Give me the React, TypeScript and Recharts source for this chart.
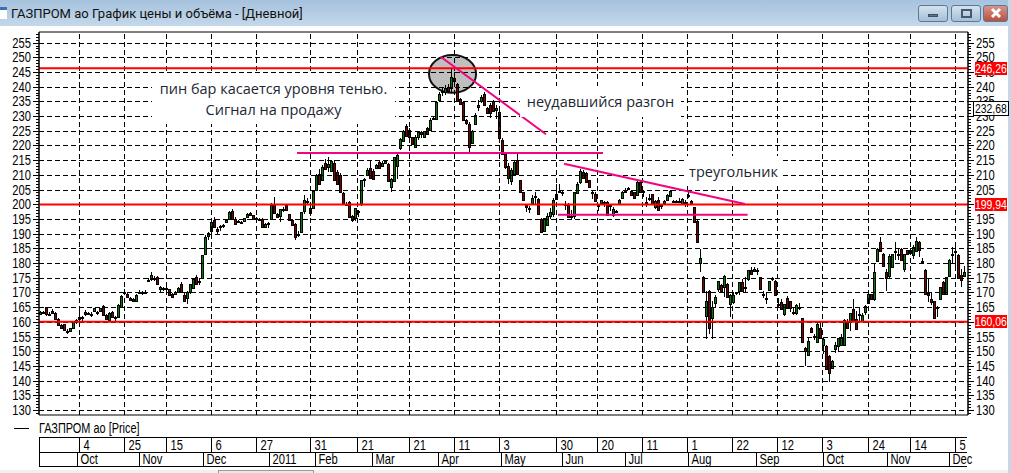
import { Bar, ComposedChart, ReferenceArea, ReferenceLine, XAxis, YAxis } from "recharts";

type Ohlc = [number, number, number, number];

// open, high, low, close per trading day
const sep10: Ohlc[] = [
  [162.6, 163.8, 162.2, 163.4], [163.2, 163.6, 163, 163.4], [164.9, 165, 162, 162.5], [162.5, 163.2, 162, 162.8],
  [163.6, 164.4, 162.5, 163], [163, 163.2, 160.8, 161], [161, 161.2, 158.8, 159], [159, 159.2, 157.6, 157.8],
  [159.2, 159.4, 157, 157.3], [157, 157.5, 156, 156.8], [157, 158, 156.9, 157.8], [158, 160, 157.8, 159.8],
  [160.6, 160.8, 159.4, 159.8],
];
const oct10: Ohlc[] = [
  [160.8, 163.6, 160, 161.5], [161.2, 162, 160.4, 161.8], [163.3, 164, 162, 162.6], [163, 163.4, 162.4, 162.8],
  [162.8, 163.2, 161.8, 162.2], [163.8, 164.8, 163.6, 164.6], [163, 163.6, 162.4, 163.2], [163.6, 164.8, 163.2, 164.6],
  [165.4, 165.6, 162, 162.2], [162.4, 162.6, 160.8, 161], [160.6, 163.2, 160, 163], [163.3, 163.6, 161.6, 161.8],
  [161.6, 162, 160.2, 161.6], [161.8, 166, 161.4, 165.8], [165, 169, 164.8, 168.8], [170, 171, 169.8, 170.2],
  [169.6, 170, 168, 168.6], [168.2, 168.6, 167, 167.4], [167.8, 168.2, 167, 167.2], [167, 169.4, 166.8, 169.2],
];
const nov10: Ohlc[] = [
  [170, 170.8, 169.8, 170], [170, 170.4, 169, 169.8], [170.2, 170.8, 170, 170.2], [174, 174.8, 173.8, 174.2],
  [174.4, 177, 174, 175.8], [174.8, 175.6, 174, 174.4], [175.4, 175.6, 172.6, 172.8], [171, 172.2, 170, 172],
  [171, 171.8, 170.6, 171.6], [171.4, 171.8, 171, 171.6], [171, 171.2, 169, 169.2], [169.4, 169.8, 168, 168.5],
  [169.6, 170.4, 169.4, 170.2], [170.2, 171.8, 170, 171.6], [172.8, 173.6, 170, 170.2], [169, 170, 167, 167.2],
  [168, 170.4, 166, 170.2], [170.2, 173, 169.6, 172.8], [171.6, 175, 171, 174.6], [175.2, 176, 172.4, 172.8],
  [173.6, 174.4, 172.6, 174], [174.8, 182.8, 174.6, 182.6],
];
const dec10: Ohlc[] = [
  [183, 189.4, 182.8, 189], [189.2, 190.6, 188, 190.2], [191, 194, 189, 193.8], [194.8, 195.8, 192, 192.3],
  [191.6, 192.2, 190, 191], [192.4, 193, 191, 192.6], [192.6, 193.4, 192, 193], [194, 195, 193.8, 194.8],
  [195, 197.8, 194.6, 197.4], [197.8, 198.4, 195, 195.1], [195, 195.6, 193, 193.2], [194.2, 194.8, 193.6, 194],
  [193.8, 194.4, 193.2, 193.6], [194.4, 195.2, 194.2, 195.2], [195.7, 197, 195.5, 196.8], [197, 197.4, 196, 196.4],
  [196.2, 196.4, 194.8, 195], [195.2, 195.6, 194.8, 195], [195, 195.4, 194.4, 194.8], [195, 195.2, 192.2, 192.4],
  [192.4, 193.6, 192, 193.4], [193.6, 194, 192, 193.6],
];
const jan11: Ohlc[] = [
  [195, 200.5, 194.6, 199.8], [199.8, 202.6, 196.8, 196.9], [196.8, 197, 195.2, 195.5], [195.9, 198.4, 194, 198.4],
  [198.4, 199, 197.2, 198.4], [199.6, 200, 197.9, 198], [196.6, 196.8, 194.4, 194.6], [194.8, 195, 192.8, 193],
  [193.4, 193.6, 188, 188.8], [190, 191, 189, 189.6], [190.6, 197.4, 190.4, 197.2], [197.6, 203, 196.6, 201.6],
  [201, 202, 200, 201.2], [198.6, 199, 196, 197], [198.6, 204.6, 198.4, 204.4],
];
const feb11: Ohlc[] = [
  [205, 210.2, 204.8, 210], [210.4, 212, 206.6, 207], [208.2, 213.4, 208, 212.8], [214, 215.4, 211.8, 212],
  [212.6, 216, 211, 213.8], [211.4, 215.2, 211, 214.6], [214, 215, 208, 208.4], [211, 211.8, 206.8, 207],
  [210, 210.6, 203.8, 204], [203.8, 204, 200, 200.2], [200, 200.6, 199.4, 199.8], [200.6, 201, 195.4, 195.6],
  [196, 196.2, 193.8, 194.6], [195.2, 198.6, 194.4, 198.6], [197.6, 198, 195.6, 197.8], [200, 208.4, 199.4, 208.2],
  [208.4, 209, 206, 208.6], [210, 212.4, 209.6, 211.8], [212.2, 215, 208.6, 208.8],
];
const mar11: Ohlc[] = [
  [211.2, 212, 208.4, 208.6], [212.2, 213.6, 212, 213.2], [214.4, 214.6, 212.2, 212.4], [213, 214.6, 212.8, 214],
  [214, 215, 214, 214.7], [213.8, 214, 207.8, 208], [205.8, 208.8, 204, 208.6], [208, 216, 207.8, 216],
  [213, 217.8, 208.5, 216.8], [219, 222.4, 218.6, 222.2], [221.6, 225.4, 221.4, 225], [226.6, 227.2, 223, 223.2],
  [225.4, 226, 222.6, 222.8], [222.8, 223, 220.2, 220.4], [219.6, 223.4, 219.2, 223], [223, 225, 222, 224.6],
  [224.6, 224.8, 222.4, 224], [223, 225, 222.4, 224.8], [226, 226.2, 223.4, 223.8], [225.4, 229.2, 225, 228.8],
  [229, 230, 228.6, 229.4], [229.1, 235.2, 229, 234.8],
];
const apr11: Ohlc[] = [
  [235.6, 238.2, 234.8, 237.6], [238.2, 239.4, 236.8, 238.4], [238.2, 240.4, 237, 239.6], [240, 241, 238, 238.4],
  [239.6, 246.4, 238, 243.2], [243, 245, 240.5, 241.8], [241, 241.2, 234.8, 235], [235.8, 236, 234, 234.2],
  [234.8, 235, 228.4, 228.6], [228.6, 229, 227, 227.6], [227.4, 228, 217.8, 219.4], [221, 225.4, 220.8, 225],
  [227.4, 231, 227.2, 230.2], [233, 235.4, 231.6, 233.6], [235, 237, 234.6, 236.6], [237.6, 238.2, 233.6, 233.7],
  [232.6, 233, 230.8, 231], [233.6, 234.4, 229.4, 231], [235, 235.4, 231.4, 231.6], [232, 233.6, 229, 232.8],
  [231.4, 232, 222.2, 222.4],
];
const may11: Ohlc[] = [
  [222, 222.4, 216.6, 217], [217.2, 217.4, 212, 212.6], [213, 214, 206.8, 209], [208, 212.4, 206.6, 211.6],
  [210.4, 214.8, 210, 214.4], [215, 217, 210, 210.3], [208.2, 208.4, 203.8, 204], [204, 204.2, 201.2, 201.5],
  [199.6, 199.8, 197.4, 199], [198.8, 199.4, 197, 198.8], [200.4, 203, 199.6, 202.2], [202.4, 204, 200, 202.8],
  [201.8, 202, 196.4, 196.6], [195, 195.2, 190.4, 190.6], [191, 195.4, 190.8, 195.2], [193, 197, 192.6, 196],
  [196, 198.6, 195, 197.4], [196.8, 202, 195.8, 201.4], [201.8, 206.8, 201.6, 203.6], [204.6, 207, 203.8, 204.4],
];
const jun11: Ohlc[] = [
  [204, 205, 202.8, 203.8], [200, 201, 198, 200], [200, 200.4, 195.4, 195.6], [195.8, 198, 195, 196],
  [196, 204.2, 195, 204], [203.8, 207.4, 203.6, 207], [207.5, 212, 207, 211.3], [211, 211.8, 208.8, 208.9],
  [210.6, 211, 207.4, 207.5], [208.2, 208.4, 205.8, 206], [203.8, 205, 201.8, 204], [203.6, 204, 200.6, 201],
  [199.6, 200, 197.6, 199.6], [200.4, 201.6, 199.6, 201.4], [200.4, 201, 199, 200.6], [200.6, 201, 196.4, 196.5],
  [199.8, 200, 197.6, 199.4], [196.5, 199, 195.6, 198.4], [197.4, 198, 197, 197.6], [200, 201.8, 199.8, 201.6],
  [202, 204.6, 202, 204.2],
];
const jul11: Ohlc[] = [
  [204.4, 205.6, 204, 204.6], [205.4, 206, 204.8, 205.6], [204.4, 204.6, 203, 203.2], [204, 204.2, 201.8, 202],
  [203.2, 208, 203, 207.6], [207.4, 208, 204, 204.2], [204.4, 205, 202.6, 204.6], [200.6, 202.6, 199.2, 200.6],
  [202, 203.4, 201, 202.2], [203.4, 203.6, 200, 200.2], [199, 201.4, 198.4, 201.2], [201.4, 202.6, 198, 198],
  [199.6, 200, 198.4, 199.6], [200.4, 201.6, 199.6, 201.2], [201.4, 203.4, 201.2, 203.2], [202.8, 205, 202.6, 204.6],
  [201, 201.4, 200.8, 201], [201.2, 201.6, 200.4, 201.2], [201, 202, 200.4, 201.2], [200.2, 202, 199.6, 201.8],
  [200.6, 201.4, 199, 200.8],
];
const aug11: Ohlc[] = [
  [203, 204.2, 202.2, 203.2], [201.2, 201.4, 199.6, 200], [199, 199.2, 194, 194], [194.4, 194.6, 187.2, 187.2],
  [180, 184.8, 176.8, 181.8], [175.4, 175.6, 170, 170], [162.1, 170.4, 154.2, 167.2], [170.6, 170.8, 156, 158],
  [161.3, 167, 154, 165], [166.3, 169, 165, 168.4], [171.2, 174, 170, 174], [172.4, 173, 170, 170.6],
  [171.8, 175.8, 168.4, 175.6], [173, 173.2, 168.4, 168.6], [166, 169.6, 161.5, 169], [166.6, 170, 166, 169],
  [170, 170.2, 169, 170], [170.4, 173.6, 169, 173.4], [173.4, 174.4, 170.4, 170.6], [171.8, 175.4, 169.8, 171.8],
  [174.6, 177.8, 174, 177.6], [177.8, 178.6, 176.2, 176.4], [178, 178.8, 177, 177.2],
];
const sep11: Ohlc[] = [
  [177.6, 178.2, 176, 177.4], [175.2, 175.4, 171, 171.2], [169.6, 170.4, 168, 169.4], [168.2, 170, 166, 168],
  [170.8, 174, 170.6, 173.8], [174.4, 175.4, 174, 174.8], [174, 174.2, 169, 169], [166, 168, 164.8, 165.8],
  [166.8, 167.6, 164, 164.2], [162.8, 166.2, 162, 166], [168, 168.8, 164.6, 164.6], [167, 167, 163.4, 164.6],
  [163.2, 165, 162.4, 163.2], [163, 166, 162.4, 165.8], [165, 166.4, 164, 165], [161.2, 161.4, 153.2, 153.2],
  [151, 151.4, 145, 150], [148.6, 155, 148.4, 153.6], [158, 158.4, 156.6, 156.6], [155, 156, 153.8, 155.2],
  [153.2, 160.2, 153, 159.2], [157.8, 160, 154.6, 154.6],
];
const oct11: Ohlc[] = [
  [152, 155, 149, 154], [151.8, 152, 144, 144], [148.4, 148.6, 139.6, 142.6], [144.4, 147, 144.2, 146.8],
  [150.6, 153, 149.4, 152.2], [151.8, 154.4, 149.8, 154.4], [152.1, 156, 152, 154.6], [152, 161, 152, 160.6],
  [160.4, 161, 157.4, 157.8], [159.8, 163, 157, 163], [164.4, 167.6, 160, 160.2], [161, 163.6, 157.6, 157.6],
  [162.6, 165, 160, 162.6], [160.4, 163, 160, 162.4], [163.2, 165.8, 162.4, 165.4], [166.4, 169.8, 166.2, 169.6],
  [169.4, 169.6, 167.6, 167.8], [167.6, 179.6, 167, 176.8], [180.6, 185, 180.4, 184.8], [187, 189, 184, 184.2],
  [183.2, 183.4, 179, 179], [176.8, 178, 170.4, 175],
];
const nov11: Ohlc[] = [
  [175.6, 183, 175, 182.4], [178.8, 183.2, 178.6, 183], [184, 187, 181, 183.8], [183, 185, 181, 183],
  [184.8, 185, 180.8, 181], [178, 183, 177, 183], [184.4, 184.6, 182.8, 183], [184.6, 185, 183, 183.4],
  [182.8, 186, 181.4, 185.6], [184.2, 188.8, 184, 187.6], [187.2, 187.4, 182, 184.4], [180.6, 181.6, 180.2, 180.4],
  [177.8, 178, 169.4, 169.6], [169.8, 175, 166.6, 169], [167.8, 170, 165.6, 166.8], [167, 167.2, 161.4, 161.4],
  [165, 165.4, 161.6, 165.2], [167.6, 172, 167.6, 172], [173.4, 174, 169.6, 169.6], [169.6, 175.4, 169.6, 175.2],
];
const dec11: Ohlc[] = [
  [175.6, 181.4, 175.4, 181.2], [182.8, 185.6, 179.6, 183], [184, 186, 178, 184.2], [182.8, 183, 174.8, 175],
  [176, 178, 172, 174.2], [175.6, 179, 175.4, 177],
];

const dayTicks = [13, 28, 42, 57, 72, 90, 105.5, 123, 138, 153, 172, 185.5, 200.5, 215.5, 230.5, 245.5, 260.5, 276, 290, 305];
const dayLabels = ["4", "25", "15", "6", "27", "31", "21", "21", "11", "3", "30", "20", "11", "1", "22", "12", "3", "24", "14", "5"];
const monthTicks = [12.2, 32.8, 54.2, 76.2, 91.5, 110.4, 132.4, 153.4, 173.7, 194.7, 215.7, 238.5, 260.8, 282.2, 302.8];
const monthLabels = ["Oct", "Nov", "Dec", "2011", "Feb", "Mar", "Apr", "May", "Jun", "Jul", "Aug", "Sep", "Oct", "Nov", "Dec"];

const minorTicks = Array.from({ length: 130 }, (_, i) => 129 + i);
const gridPrices = [130, 135, 140, 145, 150, 155, 160, 165, 170, 175, 180, 185, 190, 195, 200, 205, 210, 215, 220, 225, 230, 235, 240, 245, 250, 255];
const levels = [
  { price: 246.26, text: "246,26" },
  { price: 199.94, text: "199,94" },
  { price: 160.06, text: "160,06" },
];
const lastPrice = { price: 232.68, text: "232,68" };
// these right axis labels are fully under a price tag
const coveredRightLabels = [200, 160];
const pinkSegments = [
  { from: [85.5, 217.4], to: [187.5, 217.4] },
  { from: [133.4, 250.2], to: [168.5, 223.8] },
  { from: [174.5, 213.8], to: [234.8, 200.1] },
  { from: [172.5, 196.4], to: [235.7, 196.4] },
];

const candles = [sep10, oct10, nov10, dec10, jan11, feb11, mar11, apr11, may11, jun11, jul11, aug11, sep11, oct11, nov11, dec11]
  .flat()
  .map(([open, high, low, close], index) => ({ index, open, high, low, close, range: [low, high] }));

const AXIS_FONT = "'Liberation Sans', sans-serif";
const NOTE_FONT = "'Open Sans', sans-serif";
const X_DOMAIN: [number, number] = [-0.5, 309.17];
const Y_DOMAIN: [number, number] = [128.3, 258.6];
const PLOT_TOP = 32;
const PLOT_HEIGHT = 383;
const NARROW = 0.8;

// the price tags sit on top of the right axis labels, so they live outside the svg
const tagTop = (price: number) => PLOT_TOP + ((Y_DOMAIN[1] - price) / (Y_DOMAIN[1] - Y_DOMAIN[0])) * PLOT_HEIGHT;

// the original axis font is a narrow bitmap one, so squeeze the text horizontally
function AxisText({ x, y, anchor = "start", children }: { x: number; y: number; anchor?: string; children: any }) {
  return (
    <text transform={`translate(${x} ${y}) scale(${NARROW} 1)`} textAnchor={anchor} fontSize={14} fontFamily={AXIS_FONT} fill="#000">
      {children}
    </text>
  );
}

// dashed grid rule snapped to the pixel grid
function GridRule(props: any) {
  const { x1, y1, x2, y2 } = props;
  const snap = (v: number) => Math.round(v) + 0.5;
  const vertical = x1 === x2;
  return (
    <line
      x1={vertical ? snap(x1) : x1}
      x2={vertical ? snap(x2) : x2}
      y1={vertical ? y1 : snap(y1)}
      y2={vertical ? y2 : snap(y2)}
      stroke="#000"
      strokeWidth={1}
      strokeDasharray="5 3"
    />
  );
}

function Candle(props: any) {
  const { x, y, width, height, payload } = props;
  const top = Math.min(y, y + height);
  const span = Math.abs(height);
  const perUnit = span / (payload.high - payload.low || 1);
  const cx = Math.floor(x + width / 2) + 0.5;
  const y1 = Math.round(top + (payload.high - Math.max(payload.open, payload.close)) * perUnit) + 0.5;
  const y2 = Math.round(top + (payload.high - Math.min(payload.open, payload.close)) * perUnit) + 0.5;
  const up = payload.close >= payload.open;
  return (
    <g shapeRendering="crispEdges">
      <line x1={cx} x2={cx} y1={top} y2={top + span} stroke="#000" />
      <rect x={cx - 1} y={y1} width={2} height={Math.max(y2 - y1, 1)} fill={up ? "#008000" : "#800000"} stroke="#000" />
    </g>
  );
}

function PriceTick(props: any) {
  const { x, y, payload, side } = props;
  const major = payload.value % 5 === 0;
  const dir = side === "left" ? -1 : 1;
  const len = major ? 6 : 3;
  const yy = Math.round(y) + 0.5;
  const showText = major && !(side === "right" && coveredRightLabels.includes(payload.value));
  return (
    <g>
      <line x1={x} x2={x + dir * len} y1={yy} y2={yy} stroke="#000" shapeRendering="crispEdges" />
      {showText && (
        <AxisText x={x + dir * 8} y={yy + 4.5} anchor={side === "left" ? "end" : "start"}>
          {payload.value}
        </AxisText>
      )}
    </g>
  );
}

function DayTick(props: any) {
  const { x, y, index } = props;
  const xx = Math.round(x) + 0.5;
  return (
    <g>
      <line x1={xx} x2={xx} y1={y + 22.5} y2={y + 37} stroke="#000" shapeRendering="crispEdges" />
      <AxisText x={xx + 4} y={y + 34.5}>
        {dayLabels[index]}
      </AxisText>
    </g>
  );
}

function MonthTick(props: any) {
  const { x, y, index } = props;
  const xx = Math.round(x) + 0.5;
  return (
    <g>
      <line x1={xx} x2={xx} y1={y} y2={y + 15} stroke="#000" shapeRendering="crispEdges" />
      <AxisText x={xx + 3} y={y + 12}>
        {monthLabels[index]}
      </AxisText>
    </g>
  );
}

function Note({ left, top, width, height, lines }: { left: number; top: number; width: number; height: number; lines: string[] }) {
  return (
    <div
      style={{
        position: "absolute",
        left,
        top,
        width,
        height,
        boxSizing: "border-box",
        paddingTop: (height - lines.length * 21) / 2,
        background: "#fff",
        font: `14.5px/21px ${NOTE_FONT}`,
        color: "#1c2733",
        textAlign: "center",
        whiteSpace: "nowrap",
      }}
    >
      {lines.map((l) => (
        <div key={l}>{l}</div>
      ))}
    </div>
  );
}

function WinButton({ left, width, close, glyph }: { left: number; width: number; close?: boolean; glyph: "min" | "max" | "x" }) {
  return (
    <div
      style={{
        position: "absolute",
        left,
        top: 5,
        width,
        height: 17,
        boxSizing: "border-box",
        border: "1px solid #5d7894",
        borderRadius: 3,
        background: close ? "linear-gradient(#d8938a, #b8503f)" : "linear-gradient(#d4e2ef, #a6bfd6)",
      }}
    >
      {glyph === "min" && <div style={{ position: "absolute", left: 9, top: 8, width: 10, height: 3, background: "#5b7590", border: "1px solid #3d5066", boxSizing: "border-box" }} />}
      {glyph === "max" && <div style={{ position: "absolute", left: 9, top: 3, width: 11, height: 9, border: "2px solid #44586e", boxSizing: "border-box" }} />}
      {glyph === "x" && (
        <svg width={width - 2} height={15} style={{ position: "absolute", left: 0, top: 0 }}>
          <path d="M8 3 L16 11 M16 3 L8 11" stroke="#fff" strokeWidth={3} />
        </svg>
      )}
    </div>
  );
}

const tagTextStyle = { display: "inline-block", transform: `scaleX(${NARROW})`, whiteSpace: "nowrap" } as const;

export default function App() {
  return (
    <div style={{ position: "fixed", left: 0, top: 0, width: 1011, height: 473, background: "#fff", overflow: "hidden" }}>
      {/* window chrome */}
      <div style={{ position: "absolute", left: 0, top: 0, width: 1011, height: 26, background: "linear-gradient(#a6c2dd, #c4d8ea)" }} />
      <div style={{ position: "absolute", left: 1008, top: 0, width: 3, height: 473, background: "#c4d8ea" }} />
      <div style={{ position: "absolute", left: 0, top: 7, width: 7, height: 12, background: "#fff", borderTop: "3px solid #3f6fb0", boxSizing: "border-box" }} />
      <div style={{ position: "absolute", left: 11, top: 6, font: "13px Roboto, sans-serif", color: "#111", whiteSpace: "nowrap" }}>
        ГАЗПРОМ ао График цены и объёма - [Дневной]
      </div>
      <WinButton left={918} width={30} glyph="min" />
      <WinButton left={951} width={30} glyph="max" />
      <WinButton left={983} width={25} close glyph="x" />

      {/* calendar strip frame, the separators come from the axis ticks */}
      <div style={{ position: "absolute", left: 39, top: 437, width: 928, height: 30, boxSizing: "border-box", borderTop: "1px solid #000", borderBottom: "1px solid #000", borderLeft: "1px solid #000" }} />
      <div style={{ position: "absolute", left: 39, top: 452, width: 928, height: 1, background: "#000" }} />

      <div style={{ position: "absolute", left: 0, top: 0 }}>
        <ComposedChart width={1011} height={473} data={candles} margin={{ top: PLOT_TOP, right: 0, bottom: 0, left: 0 }}>
          <XAxis
            xAxisId="days"
            dataKey="index"
            type="number"
            domain={X_DOMAIN}
            allowDataOverflow
            ticks={dayTicks}
            interval={0}
            height={37}
            tickSize={0}
            tickMargin={0}
            axisLine={false}
            tickLine={false}
            tick={<DayTick />}
          />
          <XAxis
            xAxisId="months"
            dataKey="index"
            type="number"
            domain={X_DOMAIN}
            allowDataOverflow
            ticks={monthTicks}
            interval={0}
            height={21}
            tickSize={0}
            tickMargin={0}
            axisLine={false}
            tickLine={false}
            tick={<MonthTick />}
          />
          <YAxis
            yAxisId="price"
            orientation="left"
            width={39}
            type="number"
            domain={Y_DOMAIN}
            allowDataOverflow
            ticks={minorTicks}
            interval={0}
            tickSize={0}
            tickMargin={0}
            tickLine={false}
            axisLine={{ stroke: "#000" }}
            tick={<PriceTick side="left" />}
          />
          <YAxis
            yAxisId="right"
            orientation="right"
            width={43}
            type="number"
            domain={Y_DOMAIN}
            allowDataOverflow
            ticks={minorTicks}
            interval={0}
            tickSize={0}
            tickMargin={0}
            tickLine={false}
            axisLine={{ stroke: "#000" }}
            tick={<PriceTick side="right" />}
          />
          {gridPrices.map((p) => (
            <ReferenceLine key={p} xAxisId="days" yAxisId="price" y={p} shape={<GridRule />} />
          ))}
          {dayTicks.map((t) => (
            <ReferenceLine key={t} xAxisId="days" yAxisId="price" x={t} shape={<GridRule />} />
          ))}
          <ReferenceArea
            xAxisId="days"
            yAxisId="price"
            x1={129.5}
            x2={145.2}
            y1={237.9}
            y2={250.8}
            shape={(p: any) => (
              <ellipse cx={p.x + p.width / 2} cy={p.y + p.height / 2} rx={p.width / 2} ry={p.height / 2} fill="#808080" fillOpacity={0.5} stroke="#111" strokeWidth={2} />
            )}
          />
          <Bar xAxisId="days" yAxisId="price" dataKey="range" barSize={3} shape={<Candle />} isAnimationActive={false} />
          {levels.map((l) => (
            <ReferenceLine key={l.price} xAxisId="days" yAxisId="price" y={l.price} stroke="#ff0000" strokeWidth={2} />
          ))}
          {pinkSegments.map((s) => (
            <ReferenceLine
              key={s.from[0]}
              xAxisId="days"
              yAxisId="price"
              segment={[
                { x: s.from[0], y: s.from[1] },
                { x: s.to[0], y: s.to[1] },
              ]}
              stroke="#f0047f"
              strokeWidth={2}
            />
          ))}
          <ReferenceArea xAxisId="days" yAxisId="price" x1={-0.5} x2={309.17} y1={128.3} y2={258.6} fill="none" stroke="#000" />
        </ComposedChart>
      </div>

      <Note left={152} top={74} width={243} height={50} lines={["пин бар касается уровня тенью.", "Сигнал на продажу"]} />
      <Note left={520} top={86} width={161} height={31} lines={["неудавшийся разгон"]} />
      <Note left={685} top={156} width={97} height={30} lines={["треугольник"]} />

      {/* price tags over the right axis */}
      {levels.map((l) => (
        <div
          key={l.text}
          style={{ position: "absolute", left: 975, top: tagTop(l.price) - 6.5, width: 32, height: 13, background: "#ff0000", color: "#fff", font: `13px/13px ${AXIS_FONT}`, textAlign: "center" }}
        >
          <span style={{ ...tagTextStyle, marginLeft: -4, marginRight: -4 }}>{l.text}</span>
        </div>
      ))}
      <div
        style={{ position: "absolute", left: 973, top: tagTop(lastPrice.price) - 7, width: 36, height: 15, boxSizing: "border-box", background: "#fff", border: "1px solid #000", color: "#000", font: `13px/13px ${AXIS_FONT}`, textAlign: "center" }}
      >
        <span style={{ ...tagTextStyle, marginLeft: -4, marginRight: -4 }}>{lastPrice.text}</span>
      </div>

      {/* legend */}
      <div style={{ position: "absolute", left: 14, top: 428, width: 15, height: 1, background: "#000" }} />
      <div style={{ position: "absolute", left: 39, top: 420, font: `14px ${AXIS_FONT}`, color: "#000", whiteSpace: "nowrap", transform: "scaleX(0.78)", transformOrigin: "left center" }}>
        ГАЗПРОМ ао [Price]
      </div>

      {/* status strip */}
      <div style={{ position: "absolute", left: 0, top: 470, width: 1008, height: 3, background: "#f0f0f0" }} />
      <div style={{ position: "absolute", left: 218, top: 470, width: 96, height: 3, boxSizing: "border-box", border: "1px solid #9a9a9a", borderBottom: "none", background: "#e8e8e8" }} />
    </div>
  );
}
